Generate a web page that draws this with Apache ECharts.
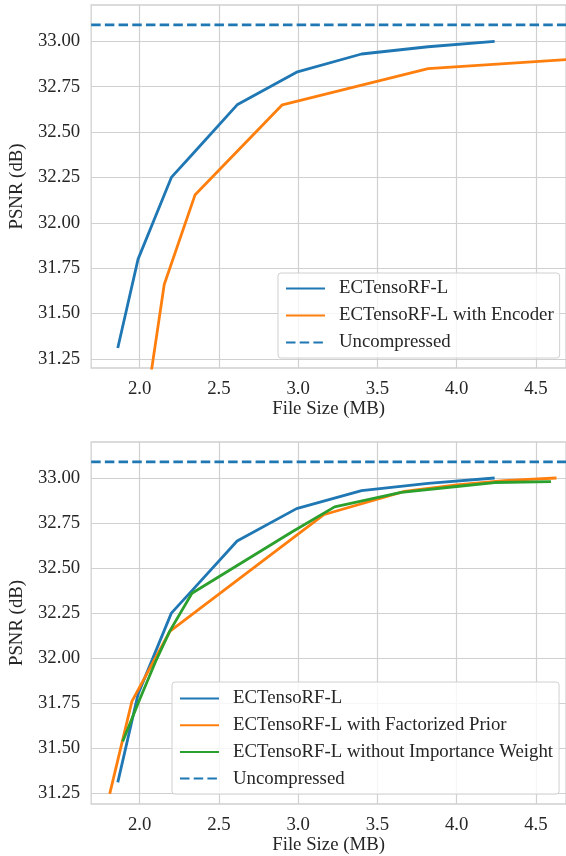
<!DOCTYPE html>
<html>
<head>
<meta charset="utf-8">
<script src="https://cdn.jsdelivr.net/npm/echarts@6/dist/echarts.min.js"></script>
<style>
html,body{margin:0;padding:0;background:#fff;}
#chart{width:566px;height:856px;}
</style>
</head>
<body>
<div id="chart"></div>
<script>
// ---- data ----
const xTicks = [2.0, 2.5, 3.0, 3.5, 4.0, 4.5];
const yTicks = [31.25, 31.5, 31.75, 32.0, 32.25, 32.5, 32.75, 33.0];

const baseSize = [1.862, 1.99, 2.20, 2.33, 2.615, 2.99, 3.40, 3.82, 4.24];
const basePSNR = [31.31, 31.80, 32.25, 32.375, 32.65, 32.83, 32.93, 32.97, 33.00];

const encoderSize = [2.065, 2.155, 2.35, 2.90, 3.82, 4.70];
const encoderPSNR = [31.13, 31.66, 32.155, 32.65, 32.85, 32.90];

const factSize = [1.811, 1.951, 2.19, 3.16, 3.67, 4.0, 4.3, 4.63];
const factPSNR = [31.246, 31.76, 32.148, 32.796, 32.926, 32.962, 32.985, 33.0];

const noIWSize = [1.893, 2.0, 2.1, 2.19, 2.33, 2.96, 3.23, 3.65, 4.0, 4.24, 4.595];
const noIWPSNR = [31.537, 31.77, 31.98, 32.15, 32.36, 32.70, 32.84, 32.92, 32.953, 32.975, 32.98];

const uncompressedPSNR = 33.09;

const xMin = 1.694, xMax = 4.69;
// ---------------------------------------

const FONT = "'Liberation Serif','Times New Roman',serif";
const TXT = '#262626';
const GRIDC = '#d0d0d0';
const BLUE = '#1f77b4', ORANGE = '#ff7f0e', GREEN = '#2ca02c';
const LW = 2.8;

const zip = (xs, ys) => xs.map((x, i) => [x, ys[i]]);

function xAxis(gi) {
  return {
    type: 'value', gridIndex: gi, min: xMin, max: xMax,
    name: 'File Size (MB)', nameLocation: 'middle', nameGap: 30,
    nameTextStyle: {fontFamily: FONT, fontSize: 18.8, color: TXT},
    axisLine: {show: false}, axisTick: {show: false, customValues: xTicks},
    axisLabel: {customValues: xTicks, fontFamily: FONT, fontSize: 18.8, color: TXT, margin: 12,
      formatter: v => Number(v).toFixed(1)},
    splitLine: {show: true, lineStyle: {color: GRIDC, width: 1.2}}
  };
}
function yAxis(gi, mn, mx) {
  return {
    type: 'value', gridIndex: gi, min: mn, max: mx,
    name: 'PSNR (dB)', nameLocation: 'middle', nameGap: 57,
    nameTextStyle: {fontFamily: FONT, fontSize: 18.8, color: TXT},
    axisLine: {show: false}, axisTick: {show: false, customValues: yTicks},
    axisLabel: {customValues: yTicks, fontFamily: FONT, fontSize: 18.8, color: TXT, margin: 11,
      formatter: v => Number(v).toFixed(2)},
    splitLine: {show: true, lineStyle: {color: GRIDC, width: 1.2}}
  };
}
function lineSeries(name, gi, data, color, dashed) {
  return {
    type: 'line', name: name, xAxisIndex: gi, yAxisIndex: gi,
    data: data, symbol: 'none', showSymbol: false, clip: true,
    lineStyle: {color: color, width: LW, type: dashed ? [9.5, 4.2] : 'solid', cap: 'butt'},
    itemStyle: {color: color},
    emphasis: {disabled: true}, animation: false
  };
}
function legend(names, left, top, gap, padding) {
  return {
    orient: 'vertical', left: left, top: top, data: names,
    itemWidth: 39, itemHeight: 21, itemGap: gap, padding: padding,
    itemStyle: {opacity: 0},
    backgroundColor: 'rgba(255,255,255,0.8)', borderColor: GRIDC, borderWidth: 1, borderRadius: 3,
    textStyle: {fontFamily: FONT, fontSize: 18.8, color: TXT, lineHeight: 21, padding: [0, 0, 0, 9]},
    selectedMode: false
  };
}

const chart = echarts.init(document.getElementById('chart'), null, {renderer: 'canvas'});
chart.setOption({
  backgroundColor: '#fff',
  animation: false,
  textStyle: {fontFamily: FONT, color: TXT},
  grid: [
    {left: 86, top: 5, width: 487, height: 363, show: true, borderColor: GRIDC, borderWidth: 1.3, backgroundColor: 'transparent'},
    {left: 86, top: 442, width: 487, height: 362, show: true, borderColor: GRIDC, borderWidth: 1.3, backgroundColor: 'transparent'}
  ],
  xAxis: [xAxis(0), xAxis(1)],
  yAxis: [yAxis(0, 31.2, 33.2), yAxis(1, 31.19, 33.2)],
  legend: [
    legend(['ECTensoRF-L', 'ECTensoRF-L with Encoder', 'Uncompressed'], 278, 273, 6, [5, 6, 5, 7]),
    legend(['ECTensoRF-L', 'ECTensoRF-L with Factorized Prior', 'ECTensoRF-L without Importance Weight', 'Uncompressed'], 172, 682, 5.7, [6, 6, 5, 7])
  ],
  series: [
    lineSeries('ECTensoRF-L', 0, zip(baseSize, basePSNR), BLUE),
    lineSeries('ECTensoRF-L with Encoder', 0, zip(encoderSize, encoderPSNR), ORANGE),
    lineSeries('Uncompressed', 0, [[xMin, uncompressedPSNR], [xMax, uncompressedPSNR]], BLUE, true),
    lineSeries('ECTensoRF-L', 1, zip(baseSize, basePSNR), BLUE),
    lineSeries('ECTensoRF-L with Factorized Prior', 1, zip(factSize, factPSNR), ORANGE),
    lineSeries('ECTensoRF-L without Importance Weight', 1, zip(noIWSize, noIWPSNR), GREEN),
    lineSeries('Uncompressed', 1, [[xMin, uncompressedPSNR], [xMax, uncompressedPSNR]], BLUE, true)
  ]
});
</script>
</body>
</html>
